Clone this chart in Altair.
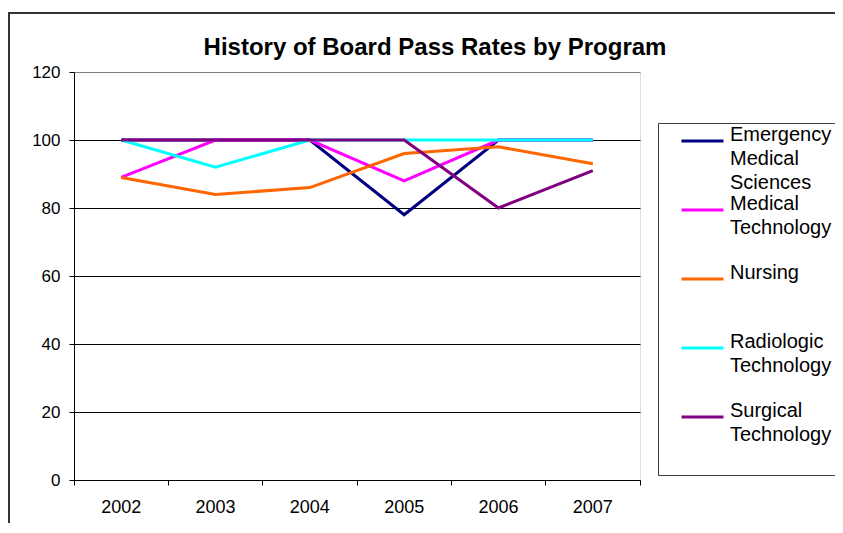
import altair as alt
import pandas as pd

years = ["2002", "2003", "2004", "2005", "2006", "2007"]
programs = [
    "Emergency Medical Sciences",
    "Medical Technology",
    "Nursing",
    "Radiologic Technology",
    "Surgical Technology",
]
ems = [100, 100, 100, 78, 100, 100]
medtech = [89, 100, 100, 88, 100, 100]
nursing = [89, 84, 86, 96, 98, 93]
radiologic = [100, 92, 100, 100, 100, 100]
surgical = [100, 100, 100, 100, 80, 91]
colors = ["#000080", "#FF00FF", "#FF6600", "#00FFFF", "#800080"]
y_ticks = [0, 20, 40, 60, 80, 100, 120]
PAD = "\u2800" * 3
legend_lines = {
    "Emergency Medical Sciences": ["Emergency" + PAD, "Medical", "Sciences"],
    "Medical Technology": ["Medical", "Technology", ""],
    "Nursing": ["Nursing", "", ""],
    "Radiologic Technology": ["Radiologic", "Technology", ""],
    "Surgical Technology": ["Surgical", "Technology", ""],
}

series = [ems, medtech, nursing, radiologic, surgical]
rows = []
for prog, vals in zip(programs, series):
    for yr, v in zip(years, vals):
        rows.append({"year": yr, "program": prog, "value": v})
df = pd.DataFrame(rows)

# label expression mapping program names to multi-line labels
expr = "datum.label"
for prog in reversed(programs):
    arr = "[" + ",".join("'" + s + "'" for s in legend_lines[prog]) + "]"
    expr = f"datum.label == '{prog}' ? {arr} : ({expr})"

FONT = "Liberation Sans, Arial, sans-serif"

frame = alt.Chart(pd.DataFrame({"a": [0]})).mark_rect(
    fill="transparent", stroke="#333333", strokeWidth=2
).encode(
    x=alt.value(-65), x2=alt.value(900), y=alt.value(-59), y2=alt.value(700)
)

lines = alt.Chart(df).mark_line(strokeWidth=3).encode(
    x=alt.X(
        "year:O",
        sort=years,
        scale=alt.Scale(type="band", paddingInner=0, paddingOuter=0),
        axis=alt.Axis(
            title=None,
            labelAngle=0,
            bandPosition=1,
            tickExtra=True,
            grid=False,
            domainColor="black",
            tickColor="black",
            tickSize=5,
            labelFontSize=18,
            labelPadding=13,
            labelColor="black",
            labelFont=FONT,
        ),
    ),
    y=alt.Y(
        "value:Q",
        scale=alt.Scale(domain=[0, 120]),
        axis=alt.Axis(
            title=None,
            values=y_ticks,
            grid=True,
            gridColor={
                "condition": {"test": "datum.value >= 120", "value": "#808080"},
                "value": "black",
            },
            gridOpacity=1,
            domainColor="black",
            tickColor="black",
            tickSize=5,
            labelFontSize=17,
            labelPadding=9,
            labelColor="black",
            labelFont=FONT,
        ),
    ),
    color=alt.Color(
        "program:N",
        scale=alt.Scale(domain=programs, range=colors),
        legend=alt.Legend(
            title=None,
            orient="none",
            legendX=584,
            legendY=51,
            symbolType="M-2,0H2",
            symbolStrokeWidth=3,
            symbolSize=441,
            symbolOffset=26.5,
            labelOffset=15.5,
            labelFontSize=20,
            labelFont=FONT,
            labelColor="black",
            labelLimit=400,
            labelExpr=expr,
            labelBaseline="alphabetic",
            rowPadding=1,
            padding=6,
            strokeColor="#404040",
            fillColor="white",
        ),
    ),
)

chart = alt.layer(frame, lines).properties(
    width=566,
    height=408,
    padding={"left": 66, "top": 64, "right": 195, "bottom": 43},
    autosize=alt.AutoSizeParams(type="none"),
    title=alt.TitleParams(
        "History of Board Pass Rates by Program",
        font=FONT,
        fontSize=24,
        fontWeight="bold",
        color="black",
        anchor="middle",
        dx=78,
        offset=-48,
    ),
).configure_view(stroke="#808080").configure(
    style={"guide-label": {"lineHeight": 24}}
)

chart.save("out.html", embed_options={"renderer": "svg", "actions": False})
